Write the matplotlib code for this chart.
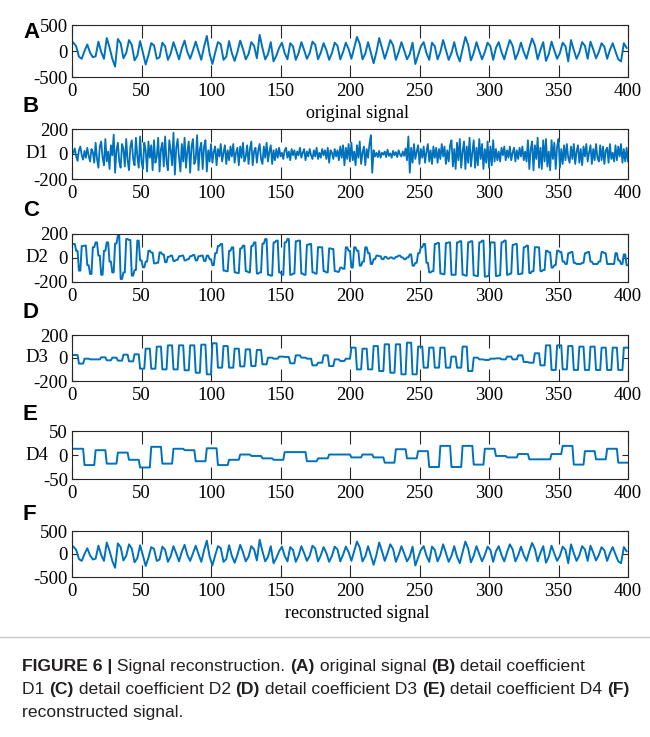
import numpy as np
import matplotlib
matplotlib.use('Agg')
import matplotlib.pyplot as plt

# original signal, read every 2nd sample (samples 1, 3, ..., 399)
original = [160, 90, -110, -150, 0, 125, -30, -120, -100, 180, -20, -150, 250, 70, -150, -300, 230, 150, -140, -40,
            210, 120, -180, -90, 190, -30, -260, -80, 150, 110, -150, -120, 160, 90, -170, -50, 170, 10, -160, 50,
            200, -20, -150, 10, 180, 0, -170, 80, 290, -50, -250, -30, 170, 130, -170, -110, 190, -40, -190, -20,
            200, 40, -160, -60, 170, 100, -140, 310, 60, -160, -60, 170, -200, -90, 60, 160, -40, -160, 150, 90,
            -170, -40, 170, 20, -150, -40, 180, 120, -160, -30, 150, 20, -170, -40, 160, 100, -160, -20, 160, 40,
            -150, 60, 270, 140, -160, -50, 170, -30, -235, -20, 250, 60, -150, 20, 210, 110, -170, -20, 170, 10,
            -160, -60, 160, -250, -80, 90, 170, -40, -170, 160, 90, -160, -20, 210, 20, -170, -40, 170, -60, -200,
            40, 270, 120, -180, -40, 170, 0, -160, -20, 160, 90, -170, 60, 170, -20, -160, 40, 210, 100, -160,
            -30, 160, -20, -150, 60, 240, 110, -160, 20, 170, -190, -60, 180, 10, -150, -40, 160, 90, -200, 210,
            20, -150, -30, 170, 100, -150, 180, 30, -140, -20, 150, 80, -150, 20, 150, -10, -160, -200, 150, 60]

# detail coefficient D1, one value per sample
d1 = [10, 45, -20, -55, 30, 60, -10, -45, 25, -30, 50, -15, -60, 40, 15, -70, 90, -40, -110, 60,
      100, -30, -90, 120, -60, 20, -120, 70, -10, 155, -150, 30, 90, -60, -110, 80, 40, -100, 120, -50,
      -130, 60, 110, -40, -90, 130, -20, -110, 140, -60, -120, 90, 30, -140, 100, -30, 70, -130, 110, -70,
      -20, 130, -140, 40, 90, -100, 140, -60, -130, 110, 30, -90, 170, -165, 50, 120, -30, -140, 80, -60,
      130, -110, 20, 100, -150, 60, 120, -80, -40, 150, -130, 40, 90, -120, 60, 110, -140, 30, -60, 80,
      -70, 20, 60, -90, 40, -20, 80, -60, 10, 70, -80, 30, -50, 60, -20, 80, -70, 10, 50, -90,
      60, -30, 90, -60, -20, 70, -80, 40, 100, -90, 20, 50, -70, 30, 80, -40, -80, 60, -30, 90,
      -60, 20, 70, -80, 30, -50, 40, -30, 50, -20, 10, -40, 30, 50, -30, 20, -50, 40, -10, 30,
      -40, 20, -10, 50, -30, 10, 40, -50, 20, -20, 40, -10, -40, 30, -20, 50, -40, 10, -30, 40,
      -10, 30, -40, 50, -70, 30, 10, -40, 40, -20, 30, -50, 60, -30, 70, -90, 50, -40, 80, -60,
      90, -50, 20, -90, 70, -30, 100, -80, 10, 60, -90, 40, -30, 80, 150, -150, 30, -20, 10, -25,
      25, -30, 10, -5, 20, -25, 35, -15, 5, -30, 25, -10, 15, -25, 30, -5, -20, 20, -15, 45,
      -50, 140, -150, 50, -70, 80, -40, 20, 70, -80, 40, -30, 60, -70, 20, 80, -60, 30, -80, 60,
      -30, 50, -70, 40, -40, 80, -20, 60, -80, 30, -60, 70, 110, -100, 40, -120, 90, -50, 120, -110,
      20, 100, -120, 60, -70, 130, -100, 10, 110, -110, 50, -90, 120, -40, 80, -120, 40, -70, 100, -110,
      60, -90, 110, -60, 40, -50, 20, -60, 50, -10, 60, -50, 30, -30, 60, -50, 10, 50, -60, 30,
      -40, 50, -20, 60, -50, 20, -60, 110, -120, 40, 100, -130, 70, -40, 130, -110, 50, -120, 110, -60,
      120, -100, 20, -130, 110, -40, 90, -120, 60, 120, -110, 40, -80, 70, -50, 80, -30, -70, 60, -40,
      80, -80, 20, 70, -70, 40, -90, 60, -20, 80, -60, 10, 70, -80, 40, -50, 80, -30, -60, 70,
      -50, 60, -80, 30, 50, -70, 80, -40, 10, -60, 70, -50, 60, -20, 80, -70, 40, -60, 50, -60]

# detail coefficient D2, one value per 2 samples
d2 = [117, 60, -105, 100, 103, -60, -133, 90, 130, 20, -140, 60, 130, -30, -120, 120, 186, -175, -120, 158,
      150, -147, -100, 145, -20, -78, -30, 61, 45, -45, -40, 47, 30, -35, 10, 20, -25, -15, 15, 20,
      -20, -10, 15, 25, -20, 15, 20, -25, 20, -10, -60, 40, 100, 117, -105, -110, 60, 89, -120, -125,
      80, 103, -110, -120, 100, 130, -130, -120, 120, 158, -140, -147, 130, 145, -120, -140, 130, 158, -140, -130,
      140, 145, -130, -140, 110, 117, -120, -130, 90, 89, -110, -120, 80, 75, -110, -115, -80, -90, 89, 60,
      -80, 89, 60, -64, -30, 89, 40, -50, -10, 20, 15, -10, 10, -5, 5, -5, 10, 20, 5, -10,
      5, 30, -64, -40, 40, 90, 117, -40, -120, -110, 117, 125, -130, -135, 125, 130, -140, -140, 130, 140,
      -140, -147, 130, 140, -145, -150, 130, 145, -155, -150, 130, 130, -150, -145, 130, 145, -140, -130, 110, 117,
      -135, -130, 90, 103, -125, -110, 90, 89, -110, -100, 60, 47, -80, -60, 61, 50, -30, -50, 40, 50,
      -40, -50, -50, -40, 40, 50, -30, -50, -50, -30, 50, 40, -50, -50, -50, 40, -20, -50, 30, -60]

# detail coefficient D3, one value per 4 samples
d3 = [26, -49, -6, -12, -12, 6, -20, 3, -23, 29, -29, 32, -93, 81, -93, 99, -99, 110, -99, 110,
      -107, 110, -128, 116, -142, 128, -84, 104, -84, 81, -73, 75, -70, 70, -55, 3, -6, 12, 9, -46,
      23, 3, -6, -64, -41, 23, -70, -12, -26, -6, 90, -99, 81, -99, 104, -113, 119, -128, 119, -142,
      133, -142, 99, -84, 90, -84, 90, -84, 12, -84, 99, -113, 3, -12, -17, -6, -3, -12, 12, -12,
      23, -35, -41, 41, -64, 110, -104, 110, -99, 104, -104, 99, -104, 99, -104, 90, -104, 90, -104, 90]

# detail coefficient D4, one value per 8 samples
d4 = [13, -21, 10, -18, 5, -10, -26, 17, -18, 13, 10, -13, 14, -21, -10, 1, -2, -7, -10, 6,
      6, -13, -7, 1, 1, -5, 1, -5, -16, 12, -7, 8, -25, 19, -25, 19, -20, 13, -2, -5,
      2, -9, -9, 2, 19, -20, 8, -9, 13, -16]

reconstructed = original

letters = ['A', 'B', 'C', 'D', 'E', 'F']
ylabels = ['', 'D1', 'D2', 'D3', 'D4', '']
ylims = [500, 200, 200, 200, 50, 500]
xticks = [0, 50, 100, 150, 200, 250, 300, 350, 400]

W, H = 650, 737
fig = plt.figure(figsize=(W / 100, H / 100), dpi=100)

# axes boxes in pixels: (top, bottom)
boxes = [(25, 77), (129, 179), (234, 282), (335, 381), (431, 479), (531, 577)]
letter_y = [33, 106, 210, 312, 414, 515]

series = [
    (np.arange(1, 401, 2), np.array(original)),
    (np.arange(1, 401), np.array(d1)),
    (np.arange(1, 401), np.repeat(d2, 2)),
    (np.arange(1, 401), np.repeat(d3, 4)),
    (np.arange(1, 401), np.repeat(d4, 8)),
    (np.arange(1, 401, 2), np.array(reconstructed)),
]

serif = 'Liberation Serif'
axcol = '#262626'

for i, (top, bot) in enumerate(boxes):
    ax = fig.add_axes([72 / W, 1 - bot / H, 556 / W, (bot - top) / H])
    xs, ys = series[i]
    ax.plot(xs, ys, color='#0072BD', lw=1.3 if i == 1 else 1.4)
    lim = ylims[i]
    ax.set_xlim(0, 400)
    ax.set_ylim(-lim, lim)
    ax.set_xticks(xticks)
    ax.set_xticklabels([str(v) for v in xticks], family=serif, fontsize=13.5)
    ax.set_yticks([-lim, 0, lim])
    ax.set_yticklabels(['-%d' % lim, '0', '%d' % lim], family=serif, fontsize=13.5)
    ax.tick_params(axis='x', direction='in', length=9, width=0.8, top=True, bottom=True,
                   pad=4.5, colors=axcol, labelcolor='black')
    ax.tick_params(axis='y', direction='in', length=4.5, width=0.8, left=True, right=True,
                   pad=3, colors=axcol, labelcolor='black')
    for s in ax.spines.values():
        s.set_linewidth(0.8)
        s.set_color(axcol)
    if ylabels[i]:
        ax.set_ylabel(ylabels[i], family=serif, fontsize=13.5, rotation=0, ha='center', va='center')
        ax.yaxis.set_label_coords(-0.063, 0.5)
    h = bot - top
    if i == 0:
        ax.set_xlabel('original signal', family=serif, fontsize=13)
        ax.xaxis.set_label_coords(0.513, -37 / h)
    if i == 5:
        ax.set_xlabel('reconstructed signal', family=serif, fontsize=13)
        ax.xaxis.set_label_coords(0.513, -37 / h)
    ax.xaxis.label.set_va('center')
    fig.text(23 / W, 1 - letter_y[i] / H, letters[i], family='Liberation Sans',
             fontweight='bold', fontsize=16, va='center', ha='left')

# separator above the caption
fig.add_artist(plt.Line2D([0, 1], [1 - 637 / H, 1 - 637 / H], color='#c8c8c8', lw=1))

# caption with bold parts
cap_font = 'Liberation Sans'
cap_size = 12.6
cap_col = '#231f20'
renderer = fig.canvas.get_renderer()


def text_w(s, weight):
    t1 = fig.text(0, 0, '|' + s + '|', family=cap_font, fontsize=cap_size, fontweight=weight)
    t2 = fig.text(0, 0, '||', family=cap_font, fontsize=cap_size, fontweight=weight)
    w = t1.get_window_extent(renderer).width - t2.get_window_extent(renderer).width
    t1.remove()
    t2.remove()
    return w


def caption_line(y, parts):
    x = 22
    for s, bold in parts:
        weight = 'bold' if bold else 'normal'
        fig.text(x / W, 1 - y / H, s, family=cap_font, fontsize=cap_size,
                 fontweight=weight, color=cap_col, va='baseline', ha='left')
        x += text_w(s, weight)


caption_line(671, [('FIGURE 6 |', True), (' Signal reconstruction. ', False), ('(A)', True),
                   (' original signal ', False), ('(B)', True), (' detail coefficient', False)])
caption_line(694, [('D1 ', False), ('(C)', True), (' detail coefficient D2 ', False), ('(D)', True),
                   (' detail coefficient D3 ', False), ('(E)', True), (' detail coefficient D4 ', False),
                   ('(F)', True)])
caption_line(717, [('reconstructed signal.', False)])

fig.savefig('out.png', dpi=100)
